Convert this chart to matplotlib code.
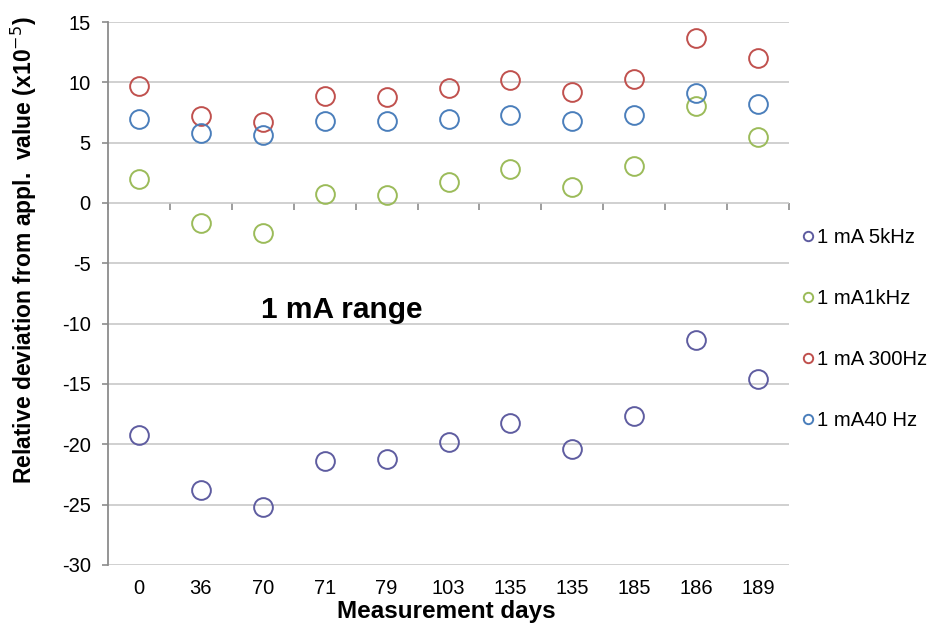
import matplotlib
matplotlib.use("Agg")
import matplotlib.pyplot as plt
import numpy as np

plt.rcParams['font.family'] = ['Liberation Sans', 'DejaVu Sans']
plt.rcParams['axes.unicode_minus'] = False

days = ["0", "36", "70", "71", "79", "103", "135", "135", "185", "186", "189"]
s_5khz = [-19.25, -23.8, -25.2, -21.4, -21.2, -19.8, -18.25, -20.4, -17.65, -11.35, -14.6]
s_1khz = [2.0, -1.66, -2.46, 0.75, 0.63, 1.7, 2.8, 1.3, 3.1, 8.0, 5.5]
s_300hz = [9.72, 7.2, 6.7, 8.9, 8.8, 9.5, 10.2, 9.2, 10.3, 13.7, 12.0]
s_40hz = [7.0, 5.8, 5.6, 6.8, 6.8, 7.0, 7.3, 6.8, 7.3, 9.1, 8.2]

series = [
    ("1 mA 5kHz", s_5khz, "#5E5CA0"),
    ("1 mA1kHz", s_1khz, "#9BBB59"),
    ("1 mA 300Hz", s_300hz, "#C0504D"),
    ("1 mA40 Hz", s_40hz, "#4A7EBB"),
]

fig = plt.figure(figsize=(9.31, 6.23), dpi=100)
ax = fig.add_axes([108/931, 1-565/623, (789-108)/931, (565-22)/623])

x = np.arange(len(days))
handles = []
for label, vals, col in series:
    h, = ax.plot(x, vals, linestyle='none', marker='o', markersize=13.5,
                 markerfacecolor='none', markeredgecolor=col, markeredgewidth=1.4,
                 label=label)
    handles.append(h)

ax.set_xlim(-0.5, len(days) - 0.5)
ax.set_ylim(-30, 15)
ax.set_yticks(np.arange(-30, 16, 5))
ax.set_xticks(x)
ax.set_xticklabels(days)
ax.yaxis.grid(True, color='#C8C8C8', linewidth=1.2)
ax.set_axisbelow(True)
for s in ['top', 'right', 'bottom']:
    ax.spines[s].set_visible(False)
ax.spines['left'].set_color('#8C8C8C')
ax.spines['left'].set_linewidth(1.3)
ax.tick_params(axis='y', direction='out', length=4.5, color='#8C8C8C', width=1.2,
               labelsize=14.5, pad=8)
ax.tick_params(axis='x', length=0, labelsize=14.5, pad=10)

# horizontal category axis crossing at y = 0
sec = ax.secondary_xaxis(30/45)
sec.set_xticks(np.arange(-0.5, len(days), 1.0))
sec.set_xticklabels([])
sec.tick_params(direction='out', length=5, color='#8C8C8C', width=1.2)
sec.spines['bottom'].set_color('#8C8C8C')
sec.spines['bottom'].set_linewidth(1.5)
sec.xaxis.set_ticks_position('bottom')
sec.spines['top'].set_visible(False)

ax.set_ylabel("Relative deviation from appl.  value (x10$^{-5}$)",
              fontsize=16.5, fontweight='bold')
ax.yaxis.set_label_coords(-0.1007, 0.58)
ax.set_xlabel("Measurement days", fontsize=17.5, fontweight='bold')
ax.xaxis.set_label_coords(0.497, -0.0985)
ax.xaxis.label.set_va('baseline')

ax.text(3.28, -8.86, "1 mA range", fontsize=21.5, fontweight='bold',
        ha='center', va='center')

leg = fig.legend(handles=handles, loc='upper left', bbox_to_anchor=(794/931, 1-220/623),
                 frameon=False, fontsize=14.6, markerscale=0.5, handlelength=0.55,
                 handletextpad=0.2, labelspacing=2.07, borderaxespad=0)

fig.savefig("out.png", dpi=100)
